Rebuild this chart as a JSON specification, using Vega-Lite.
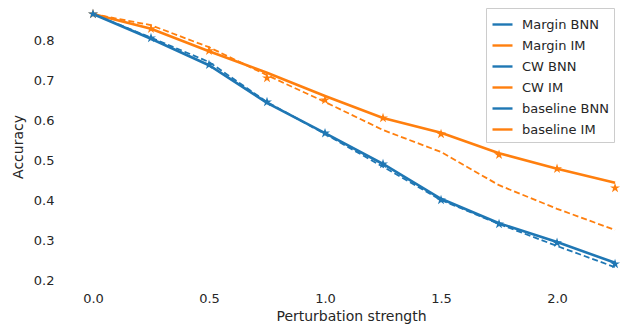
{
  "$schema": "https://vega.github.io/schema/vega-lite/v6.json",
  "width": 542,
  "height": 287,
  "autosize": {"type": "none"},
  "padding": {"left": 80, "top": 3, "right": 0, "bottom": 41},
  "background": "white",
  "config": {
    "font": "DejaVu Sans",
    "view": {"stroke": null},
    "axis": {"domain": false, "ticks": false, "grid": false, "labelFontSize": 13, "titleFontSize": 14, "labelColor": "#262626", "titleColor": "#262626", "titleFontWeight": "normal"},
    "legend": {"labelFontSize": 13, "labelColor": "#262626"}
  },
  "data": {"values": [
    {"x": 0.0, "acc": 0.865, "series": "baseline IM", "kind": "solid"},
    {"x": 0.25, "acc": 0.828, "series": "baseline IM", "kind": "solid"},
    {"x": 0.5, "acc": 0.772, "series": "baseline IM", "kind": "solid"},
    {"x": 0.75, "acc": 0.718, "series": "baseline IM", "kind": "solid"},
    {"x": 1.0, "acc": 0.66, "series": "baseline IM", "kind": "solid"},
    {"x": 1.25, "acc": 0.605, "series": "baseline IM", "kind": "solid"},
    {"x": 1.5, "acc": 0.568, "series": "baseline IM", "kind": "solid"},
    {"x": 1.75, "acc": 0.517, "series": "baseline IM", "kind": "solid"},
    {"x": 2.0, "acc": 0.478, "series": "baseline IM", "kind": "solid"},
    {"x": 2.25, "acc": 0.443, "series": "baseline IM", "kind": "solid"},
    {"x": 0.0, "acc": 0.865, "series": "Margin IM", "kind": "star"},
    {"x": 0.25, "acc": 0.828, "series": "Margin IM", "kind": "star"},
    {"x": 0.5, "acc": 0.773, "series": "Margin IM", "kind": "star"},
    {"x": 0.75, "acc": 0.705, "series": "Margin IM", "kind": "star"},
    {"x": 1.0, "acc": 0.65, "series": "Margin IM", "kind": "star"},
    {"x": 1.25, "acc": 0.605, "series": "Margin IM", "kind": "star"},
    {"x": 1.5, "acc": 0.565, "series": "Margin IM", "kind": "star"},
    {"x": 1.75, "acc": 0.513, "series": "Margin IM", "kind": "star"},
    {"x": 2.0, "acc": 0.478, "series": "Margin IM", "kind": "star"},
    {"x": 2.25, "acc": 0.43, "series": "Margin IM", "kind": "star"},
    {"x": 0.0, "acc": 0.865, "series": "CW IM", "kind": "dash"},
    {"x": 0.25, "acc": 0.837, "series": "CW IM", "kind": "dash"},
    {"x": 0.5, "acc": 0.782, "series": "CW IM", "kind": "dash"},
    {"x": 0.75, "acc": 0.712, "series": "CW IM", "kind": "dash"},
    {"x": 1.0, "acc": 0.645, "series": "CW IM", "kind": "dash"},
    {"x": 1.25, "acc": 0.575, "series": "CW IM", "kind": "dash"},
    {"x": 1.5, "acc": 0.52, "series": "CW IM", "kind": "dash"},
    {"x": 1.75, "acc": 0.437, "series": "CW IM", "kind": "dash"},
    {"x": 2.0, "acc": 0.378, "series": "CW IM", "kind": "dash"},
    {"x": 2.25, "acc": 0.325, "series": "CW IM", "kind": "dash"},
    {"x": 0.0, "acc": 0.865, "series": "baseline BNN", "kind": "solid"},
    {"x": 0.25, "acc": 0.803, "series": "baseline BNN", "kind": "solid"},
    {"x": 0.5, "acc": 0.737, "series": "baseline BNN", "kind": "solid"},
    {"x": 0.75, "acc": 0.643, "series": "baseline BNN", "kind": "solid"},
    {"x": 1.0, "acc": 0.567, "series": "baseline BNN", "kind": "solid"},
    {"x": 1.25, "acc": 0.49, "series": "baseline BNN", "kind": "solid"},
    {"x": 1.5, "acc": 0.403, "series": "baseline BNN", "kind": "solid"},
    {"x": 1.75, "acc": 0.342, "series": "baseline BNN", "kind": "solid"},
    {"x": 2.0, "acc": 0.295, "series": "baseline BNN", "kind": "solid"},
    {"x": 2.25, "acc": 0.243, "series": "baseline BNN", "kind": "solid"},
    {"x": 0.0, "acc": 0.865, "series": "CW BNN", "kind": "dash"},
    {"x": 0.25, "acc": 0.806, "series": "CW BNN", "kind": "dash"},
    {"x": 0.5, "acc": 0.745, "series": "CW BNN", "kind": "dash"},
    {"x": 0.75, "acc": 0.645, "series": "CW BNN", "kind": "dash"},
    {"x": 1.0, "acc": 0.565, "series": "CW BNN", "kind": "dash"},
    {"x": 1.25, "acc": 0.483, "series": "CW BNN", "kind": "dash"},
    {"x": 1.5, "acc": 0.4, "series": "CW BNN", "kind": "dash"},
    {"x": 1.75, "acc": 0.34, "series": "CW BNN", "kind": "dash"},
    {"x": 2.0, "acc": 0.285, "series": "CW BNN", "kind": "dash"},
    {"x": 2.25, "acc": 0.232, "series": "CW BNN", "kind": "dash"},
    {"x": 0.0, "acc": 0.865, "series": "Margin BNN", "kind": "star"},
    {"x": 0.25, "acc": 0.805, "series": "Margin BNN", "kind": "star"},
    {"x": 0.5, "acc": 0.738, "series": "Margin BNN", "kind": "star"},
    {"x": 0.75, "acc": 0.645, "series": "Margin BNN", "kind": "star"},
    {"x": 1.0, "acc": 0.567, "series": "Margin BNN", "kind": "star"},
    {"x": 1.25, "acc": 0.49, "series": "Margin BNN", "kind": "star"},
    {"x": 1.5, "acc": 0.4, "series": "Margin BNN", "kind": "star"},
    {"x": 1.75, "acc": 0.34, "series": "Margin BNN", "kind": "star"},
    {"x": 2.0, "acc": 0.293, "series": "Margin BNN", "kind": "star"},
    {"x": 2.25, "acc": 0.24, "series": "Margin BNN", "kind": "star"}
  ]},
  "layer": [
    {
      "transform": [{"filter": {"field": "kind", "equal": "dash"}}],
      "mark": {"type": "line", "strokeDash": [6, 3], "strokeWidth": 1.8},
      "encoding": {
        "x": {"field": "x", "type": "quantitative", "scale": {"domain": [-0.056, 2.28], "nice": false, "zero": false},
          "axis": {"values": [0, 0.5, 1, 1.5, 2], "format": ".1f", "title": "Perturbation strength", "labelPadding": 2, "titlePadding": 4}},
        "y": {"field": "acc", "type": "quantitative", "scale": {"domain": [0.175, 0.8925], "nice": false, "zero": false},
          "axis": {"values": [0.2, 0.3, 0.4, 0.5, 0.6, 0.7, 0.8], "format": ".1f", "title": "Accuracy", "labelPadding": 26, "titlePadding": 8}},
        "color": {"field": "series", "type": "nominal",
          "scale": {"domain": ["Margin BNN", "Margin IM", "CW BNN", "CW IM", "baseline BNN", "baseline IM"],
            "range": ["#1f77b4", "#ff7f0e", "#1f77b4", "#ff7f0e", "#1f77b4", "#ff7f0e"]},
          "legend": {"title": null, "orient": "none", "legendX": 406, "legendY": 5, "symbolType": "stroke", "symbolSize": 400, "symbolStrokeWidth": 2.4,
            "fillColor": "white", "strokeColor": "#cccccc", "padding": 5, "rowPadding": 2, "labelOffset": 8}
        }
      }
    },
    {
      "transform": [{"filter": {"field": "kind", "equal": "solid"}}],
      "mark": {"type": "line", "strokeWidth": 2.6},
      "encoding": {
        "x": {"field": "x", "type": "quantitative"},
        "y": {"field": "acc", "type": "quantitative"},
        "color": {"field": "series", "type": "nominal"}
      }
    },
    {
      "transform": [{"filter": {"field": "kind", "equal": "star"}}],
      "mark": {"type": "point", "shape": "M0,-1L0.2245,-0.309L0.9511,-0.309L0.3633,0.118L0.5878,0.809L0,0.382L-0.5878,0.809L-0.3633,0.118L-0.9511,-0.309L-0.2245,-0.309Z", "filled": true, "size": 110, "opacity": 1},
      "encoding": {
        "x": {"field": "x", "type": "quantitative"},
        "y": {"field": "acc", "type": "quantitative"},
        "color": {"field": "series", "type": "nominal"}
      }
    }
  ]
}
